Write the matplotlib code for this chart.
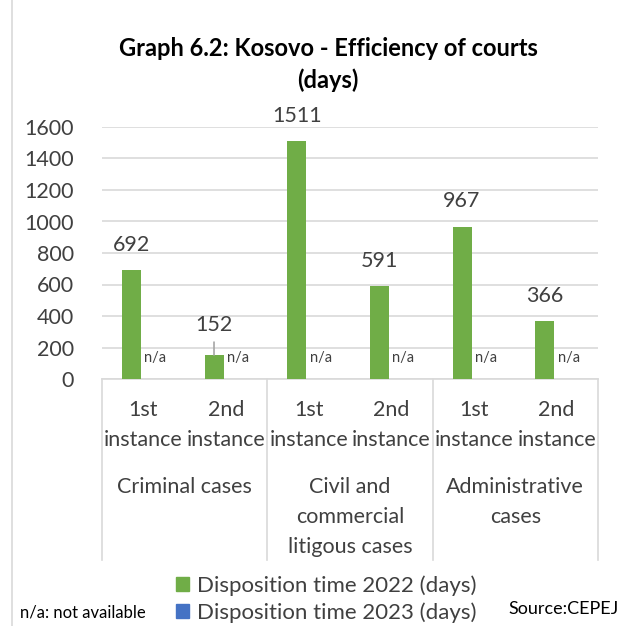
import numpy as np
import matplotlib.pyplot as plt
import matplotlib.transforms as mtransforms
from matplotlib.lines import Line2D
from matplotlib.patches import Patch

plt.rcParams['font.family'] = ['Lato', 'DejaVu Sans']

groups = ["Criminal cases", "Civil and\ncommercial\nlitigous cases", "Administrative\ncases"]
instances = ["1st\ninstance", "2nd\ninstance"]
dt_2022 = [692, 152, 1511, 591, 967, 366]
dt_2023 = [np.nan, np.nan, np.nan, np.nan, np.nan, np.nan]
yticks = [0, 200, 400, 600, 800, 1000, 1200, 1400, 1600]

W, H = 623, 626
fig = plt.figure(figsize=(W / 100, H / 100), dpi=100)
ax = fig.add_axes([102 / W, 1 - 379 / H, (598 - 102) / W, (379 - 127) / H])

x = np.arange(len(dt_2022))
bw = 0.23
off = 0.145
green = "#70AD47"
blue = "#4472C4"
txt = "#404040"
fs = 15.5

ax.bar(x - off, dt_2022, bw, color=green, zorder=3)
ax.bar(x + off, np.nan_to_num(dt_2023), bw, color=blue, zorder=3)

# data labels
for i, v in enumerate(dt_2022):
    if i == 1:
        ax.annotate(str(v), xy=(x[i] - off, v), xytext=(x[i] - off, v + 190),
                    ha="center", va="center", fontsize=fs, color=txt,
                    arrowprops=dict(arrowstyle="-", color="#A6A6A6", lw=1.2,
                                    shrinkA=3, shrinkB=0))
    else:
        ax.text(x[i] - off, v + 160, str(v), ha="center", va="center",
                fontsize=fs, color=txt)
for i, v in enumerate(dt_2023):
    ax.text(x[i] + off, 135, "n/a", ha="center", va="center", fontsize=10.5, color=txt)

ax.set_xlim(-0.5, len(x) - 0.5)
ax.set_ylim(0, 1600)
ax.set_yticks(yticks)
ax.tick_params(axis="y", length=0, pad=20, labelsize=fs, labelcolor=txt)
ax.set_xticks([])
ax.yaxis.grid(True, color="#D9D9D9", lw=1.2, zorder=0)
for s in ["top", "right", "left"]:
    ax.spines[s].set_visible(False)
ax.spines["bottom"].set_color("#D9D9D9")
ax.spines["bottom"].set_linewidth(1.2)

# multi-level category axis
tr = mtransforms.blended_transform_factory(ax.transData, fig.transFigure)
for i in x:
    ax.text(i, 1 - 425 / H, instances[i % 2], transform=tr, ha="center", va="center",
            fontsize=fs, color=txt, linespacing=1.65, clip_on=False)
for g, name in enumerate(groups):
    ax.text(2 * g + 0.5, 1 - 477 / H, name, transform=tr, ha="center", va="top",
            fontsize=fs, color=txt, linespacing=1.63, clip_on=False)
for b in [-0.5, 1.5, 3.5, 5.5]:
    fig.add_artist(Line2D([b, b], [1 - 379 / H, 1 - 560 / H], transform=tr,
                          color="#D9D9D9", lw=1.2))

# outer border hint
fig.add_artist(Line2D([12 / W, 12 / W], [0, 1], transform=fig.transFigure,
                      color="#D9D9D9", lw=1.2))

fig.text(328 / W, 1 - 48 / H, "Graph 6.2: Kosovo - Efficiency of courts", ha="center",
         va="center", fontsize=17, fontweight="bold", color="black")
fig.text(328 / W, 1 - 80 / H, "(days)", ha="center", va="center",
         fontsize=17, fontweight="bold", color="black")

handles = [Patch(color=green, label="Disposition time 2022 (days)"),
           Patch(color=blue, label="Disposition time 2023 (days)")]
fig.legend(handles=handles, loc="center left", bbox_to_anchor=(156 / W, 1 - 599 / H),
           frameon=False, fontsize=16, handlelength=0.6, handleheight=0.6,
           handletextpad=0.35, labelspacing=0.3, labelcolor=txt)

fig.text(20 / W, 1 - 612 / H, "n/a: not available", ha="left", va="center", fontsize=12)
fig.text(508 / W, 1 - 609 / H, "Source:CEPEJ", ha="left", va="center", fontsize=13)

fig.savefig("out.png", dpi=100)
